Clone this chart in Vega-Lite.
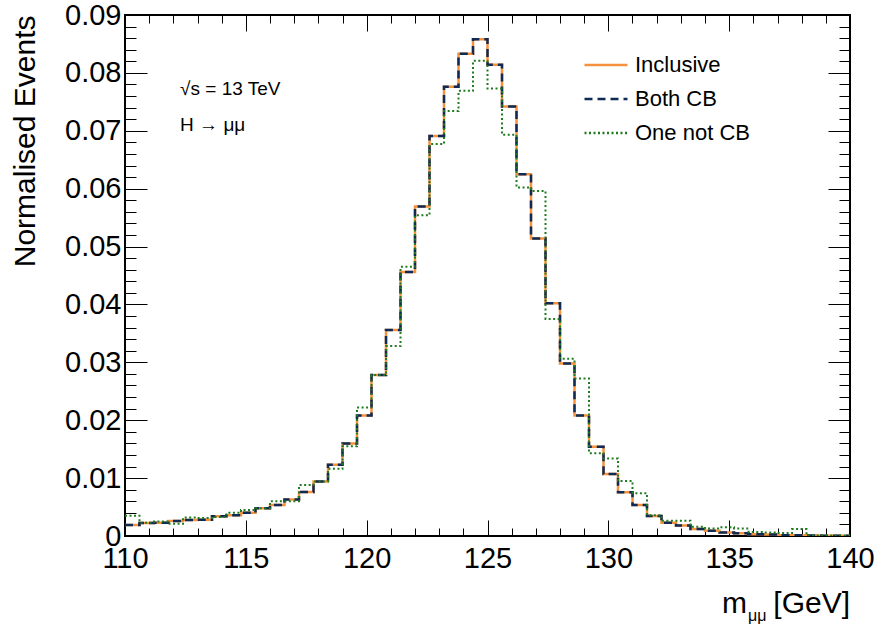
{
  "$schema": "https://vega.github.io/schema/vega-lite/v6.json",
  "width": 725,
  "height": 521,
  "autosize": {"type": "none"},
  "padding": {"left": 125, "top": 15, "right": 27, "bottom": 90},
  "background": "white",
  "config": {
    "view": {"stroke": "black", "strokeWidth": 2},
    "font": "Liberation Sans",
    "legend": {
      "orient": "none", "legendX": 458, "legendY": 27,
      "symbolType": "stroke", "symbolSize": 1849, "symbolStrokeWidth": 2.5,
      "labelFontSize": 22, "labelFont": "Liberation Sans", "labelColor": "black",
      "labelOffset": 6, "rowPadding": -1, "labelLimit": 300
    }
  },
  "datasets": {
    "hist": [
      {"m": 110.0, "Inclusive": 0.0019, "Both CB": 0.0019, "One not CB": 0.0035},
      {"m": 110.6, "Inclusive": 0.00225, "Both CB": 0.00225, "One not CB": 0.0023},
      {"m": 111.2, "Inclusive": 0.0023, "Both CB": 0.0023, "One not CB": 0.0025},
      {"m": 111.8, "Inclusive": 0.0026, "Both CB": 0.0026, "One not CB": 0.0021},
      {"m": 112.4, "Inclusive": 0.00276, "Both CB": 0.00276, "One not CB": 0.0032},
      {"m": 113.0, "Inclusive": 0.0028, "Both CB": 0.0028, "One not CB": 0.0031},
      {"m": 113.6, "Inclusive": 0.0034, "Both CB": 0.0034, "One not CB": 0.0033},
      {"m": 114.2, "Inclusive": 0.0036, "Both CB": 0.0036, "One not CB": 0.004},
      {"m": 114.8, "Inclusive": 0.004, "Both CB": 0.004, "One not CB": 0.0045},
      {"m": 115.4, "Inclusive": 0.0048, "Both CB": 0.0048, "One not CB": 0.0048},
      {"m": 116.0, "Inclusive": 0.00535, "Both CB": 0.00535, "One not CB": 0.006},
      {"m": 116.6, "Inclusive": 0.0063, "Both CB": 0.0063, "One not CB": 0.006},
      {"m": 117.2, "Inclusive": 0.0076, "Both CB": 0.0076, "One not CB": 0.0088},
      {"m": 117.8, "Inclusive": 0.0094, "Both CB": 0.0094, "One not CB": 0.0094},
      {"m": 118.4, "Inclusive": 0.0123, "Both CB": 0.0123, "One not CB": 0.0116},
      {"m": 119.0, "Inclusive": 0.016, "Both CB": 0.016, "One not CB": 0.0155},
      {"m": 119.6, "Inclusive": 0.0208, "Both CB": 0.0208, "One not CB": 0.0222},
      {"m": 120.2, "Inclusive": 0.0278, "Both CB": 0.0278, "One not CB": 0.0278},
      {"m": 120.8, "Inclusive": 0.0356, "Both CB": 0.0356, "One not CB": 0.0328},
      {"m": 121.4, "Inclusive": 0.0456, "Both CB": 0.0456, "One not CB": 0.0465},
      {"m": 122.0, "Inclusive": 0.0569, "Both CB": 0.0569, "One not CB": 0.0554},
      {"m": 122.6, "Inclusive": 0.0691, "Both CB": 0.0691, "One not CB": 0.0677},
      {"m": 123.2, "Inclusive": 0.0776, "Both CB": 0.0776, "One not CB": 0.0734},
      {"m": 123.8, "Inclusive": 0.0833, "Both CB": 0.0833, "One not CB": 0.0769},
      {"m": 124.4, "Inclusive": 0.0858, "Both CB": 0.0858, "One not CB": 0.0821},
      {"m": 125.0, "Inclusive": 0.0814, "Both CB": 0.0814, "One not CB": 0.0773},
      {"m": 125.6, "Inclusive": 0.0742, "Both CB": 0.0742, "One not CB": 0.0693},
      {"m": 126.2, "Inclusive": 0.0625, "Both CB": 0.0625, "One not CB": 0.0602},
      {"m": 126.8, "Inclusive": 0.0514, "Both CB": 0.0514, "One not CB": 0.0596},
      {"m": 127.4, "Inclusive": 0.0402, "Both CB": 0.0402, "One not CB": 0.0375},
      {"m": 128.0, "Inclusive": 0.0298, "Both CB": 0.0298, "One not CB": 0.0306},
      {"m": 128.6, "Inclusive": 0.0208, "Both CB": 0.0208, "One not CB": 0.0272},
      {"m": 129.2, "Inclusive": 0.0154, "Both CB": 0.0154, "One not CB": 0.0143},
      {"m": 129.8, "Inclusive": 0.0107, "Both CB": 0.0107, "One not CB": 0.0134},
      {"m": 130.4, "Inclusive": 0.00755, "Both CB": 0.00755, "One not CB": 0.0095},
      {"m": 131.0, "Inclusive": 0.00536, "Both CB": 0.00536, "One not CB": 0.0074},
      {"m": 131.6, "Inclusive": 0.00345, "Both CB": 0.00345, "One not CB": 0.0036},
      {"m": 132.2, "Inclusive": 0.0023, "Both CB": 0.0023, "One not CB": 0.00265},
      {"m": 132.8, "Inclusive": 0.0018, "Both CB": 0.0018, "One not CB": 0.00265},
      {"m": 133.4, "Inclusive": 0.0012, "Both CB": 0.0012, "One not CB": 0.0016},
      {"m": 134.0, "Inclusive": 0.0009, "Both CB": 0.0009, "One not CB": 0.0013},
      {"m": 134.6, "Inclusive": 0.0006, "Both CB": 0.0006, "One not CB": 0.0015},
      {"m": 135.2, "Inclusive": 0.00046, "Both CB": 0.00046, "One not CB": 0.0013},
      {"m": 135.8, "Inclusive": 0.0003, "Both CB": 0.0003, "One not CB": 0.0007},
      {"m": 136.4, "Inclusive": 0.00025, "Both CB": 0.00025, "One not CB": 0.0006},
      {"m": 137.0, "Inclusive": 0.00015, "Both CB": 0.00015, "One not CB": 0.0005},
      {"m": 137.6, "Inclusive": 0.00015, "Both CB": 0.00015, "One not CB": 0.0012},
      {"m": 138.2, "Inclusive": 0.0001, "Both CB": 0.0001, "One not CB": 0.0001},
      {"m": 138.8, "Inclusive": 0.00005, "Both CB": 0.00005, "One not CB": 0.0001},
      {"m": 139.4, "Inclusive": 0.00005, "Both CB": 0.00005, "One not CB": 0.0001},
      {"m": 140.0, "Inclusive": 0.00005, "Both CB": 0.00005, "One not CB": 0.0001}
    ],
    "labels": [
      {"m": 112.28, "v": 0.0762, "text": "√s = 13 TeV"},
      {"m": 112.28, "v": 0.0700, "text": "H → μμ"}
    ],
    "xtitle": [
      {"m": 140.0, "v": -0.0133, "text": "[GeV]"},
      {"m": 135.74, "v": -0.0133, "text": "m"}
    ],
    "xsub": [
      {"m": 135.78, "v": -0.0146, "text": "μμ"}
    ]
  },
  "layer": [
    {
      "data": {"name": "hist"},
      "transform": [{"fold": ["Inclusive"], "as": ["series", "v"]}],
      "mark": {"type": "line", "interpolate": "step-after", "strokeWidth": 2.5, "clip": true},
      "encoding": {
        "x": {"field": "m", "type": "quantitative",
          "scale": {"domain": [110, 140], "nice": false, "zero": false},
          "axis": {"orient": "bottom", "title": null, "domain": false, "grid": false,
            "values": [110,111,112,113,114,115,116,117,118,119,120,121,122,123,124,125,126,127,128,129,130,131,132,133,134,135,136,137,138,139,140],
            "tickSize": {"condition": {"test": "datum.value % 5 === 0", "value": -16}, "value": -8},
            "tickColor": "black", "tickWidth": 1,
            "labelExpr": "datum.value % 5 === 0 ? datum.label : ''",
            "labelFontSize": 29, "labelFont": "Liberation Sans", "labelColor": "black",
            "labelPadding": 24, "labelFlush": false, "labelOverlap": false, "labelBound": false}},
        "y": {"field": "v", "type": "quantitative",
          "scale": {"domain": [0, 0.09], "nice": false, "zero": false},
          "axis": {"orient": "left", "title": "Normalised Events", "domain": false, "grid": false,
            "values": [0,0.002,0.004,0.006,0.008,0.01,0.012,0.014,0.016,0.018,0.02,0.022,0.024,0.026,0.028,0.03,0.032,0.034,0.036,0.038,0.04,0.042,0.044,0.046,0.048,0.05,0.052,0.054,0.056,0.058,0.06,0.062,0.064,0.066,0.068,0.07,0.072,0.074,0.076,0.078,0.08,0.082,0.084,0.086,0.088,0.09],
            "tickSize": {"condition": {"test": "abs(datum.value*100 - round(datum.value*100)) < 0.001", "value": -22}, "value": -11},
            "tickColor": "black", "tickWidth": 1,
            "labelExpr": "abs(datum.value*100 - round(datum.value*100)) < 0.001 ? (datum.value == 0 ? '0' : format(datum.value, '.2f')) : ''",
            "labelFontSize": 29, "labelFont": "Liberation Sans", "labelColor": "black",
            "labelPadding": 26, "labelOverlap": false, "labelBound": false, "labelFlush": false,
            "titleFontSize": 30, "titleFont": "Liberation Sans", "titleFontWeight": "normal", "titleColor": "black",
            "titleAnchor": "end", "titlePadding": 24}},
        "color": {"field": "series", "type": "nominal",
          "scale": {"domain": ["Inclusive", "Both CB", "One not CB"], "range": ["#f5923e", "#0f2a55", "#1e7b1e"]},
          "legend": {"title": null}},
        "strokeDash": {"field": "series", "type": "nominal",
          "scale": {"domain": ["Inclusive", "Both CB", "One not CB"], "range": [[1, 0], [8, 5], [2, 2.5]]},
          "legend": {"title": null}}
      }
    },
    {
      "data": {"name": "hist"},
      "transform": [{"fold": ["Both CB"], "as": ["series", "v"]}],
      "mark": {"type": "line", "interpolate": "step-after", "strokeWidth": 2.5, "clip": true},
      "encoding": {
        "x": {"field": "m", "type": "quantitative",
          "scale": {"domain": [110, 140], "nice": false, "zero": false},
          "axis": {"orient": "top", "title": null, "domain": false, "grid": false, "labels": false,
            "values": [110,111,112,113,114,115,116,117,118,119,120,121,122,123,124,125,126,127,128,129,130,131,132,133,134,135,136,137,138,139,140],
            "tickSize": {"condition": {"test": "datum.value % 5 === 0", "value": -16}, "value": -8},
            "tickColor": "black", "tickWidth": 1}},
        "y": {"field": "v", "type": "quantitative",
          "scale": {"domain": [0, 0.09], "nice": false, "zero": false},
          "axis": {"orient": "right", "title": null, "domain": false, "grid": false, "labels": false,
            "values": [0,0.002,0.004,0.006,0.008,0.01,0.012,0.014,0.016,0.018,0.02,0.022,0.024,0.026,0.028,0.03,0.032,0.034,0.036,0.038,0.04,0.042,0.044,0.046,0.048,0.05,0.052,0.054,0.056,0.058,0.06,0.062,0.064,0.066,0.068,0.07,0.072,0.074,0.076,0.078,0.08,0.082,0.084,0.086,0.088,0.09],
            "tickSize": {"condition": {"test": "abs(datum.value*100 - round(datum.value*100)) < 0.001", "value": -22}, "value": -11},
            "tickColor": "black", "tickWidth": 1}},
        "color": {"field": "series", "type": "nominal",
          "scale": {"domain": ["Inclusive", "Both CB", "One not CB"], "range": ["#f5923e", "#0f2a55", "#1e7b1e"]},
          "legend": {"title": null}},
        "strokeDash": {"field": "series", "type": "nominal",
          "scale": {"domain": ["Inclusive", "Both CB", "One not CB"], "range": [[1, 0], [8, 5], [2, 2.5]]},
          "legend": {"title": null}}
      }
    },
    {
      "data": {"name": "hist"},
      "transform": [{"fold": ["One not CB"], "as": ["series", "v"]}],
      "mark": {"type": "line", "interpolate": "step-after", "strokeWidth": 2, "clip": true},
      "encoding": {
        "x": {"field": "m", "type": "quantitative", "scale": {"domain": [110, 140], "nice": false, "zero": false}, "axis": null},
        "y": {"field": "v", "type": "quantitative", "scale": {"domain": [0, 0.09], "nice": false, "zero": false}, "axis": null},
        "color": {"field": "series", "type": "nominal",
          "scale": {"domain": ["Inclusive", "Both CB", "One not CB"], "range": ["#f5923e", "#0f2a55", "#1e7b1e"]},
          "legend": {"title": null}},
        "strokeDash": {"field": "series", "type": "nominal",
          "scale": {"domain": ["Inclusive", "Both CB", "One not CB"], "range": [[1, 0], [8, 5], [2, 2.5]]},
          "legend": {"title": null}}
      }
    },
    {
      "data": {"name": "labels"},
      "mark": {"type": "text", "align": "left", "baseline": "alphabetic", "fontSize": 19, "font": "Liberation Sans", "color": "black"},
      "encoding": {
        "x": {"field": "m", "type": "quantitative", "scale": {"domain": [110, 140], "nice": false, "zero": false}, "axis": null},
        "y": {"field": "v", "type": "quantitative", "scale": {"domain": [0, 0.09], "nice": false, "zero": false}, "axis": null},
        "text": {"field": "text"}
      }
    },
    {
      "data": {"name": "xtitle"},
      "mark": {"type": "text", "align": "right", "baseline": "alphabetic", "fontSize": 30, "font": "Liberation Sans", "color": "black"},
      "encoding": {
        "x": {"field": "m", "type": "quantitative", "scale": {"domain": [110, 140], "nice": false, "zero": false}, "axis": null},
        "y": {"field": "v", "type": "quantitative", "scale": {"domain": [0, 0.09], "nice": false, "zero": false}, "axis": null},
        "text": {"field": "text"}
      }
    },
    {
      "data": {"name": "xsub"},
      "mark": {"type": "text", "align": "left", "baseline": "alphabetic", "fontSize": 16, "font": "Liberation Sans", "color": "black"},
      "encoding": {
        "x": {"field": "m", "type": "quantitative", "scale": {"domain": [110, 140], "nice": false, "zero": false}, "axis": null},
        "y": {"field": "v", "type": "quantitative", "scale": {"domain": [0, 0.09], "nice": false, "zero": false}, "axis": null},
        "text": {"field": "text"}
      }
    }
  ],
  "resolve": {"axis": {"x": "independent", "y": "independent"}}
}
